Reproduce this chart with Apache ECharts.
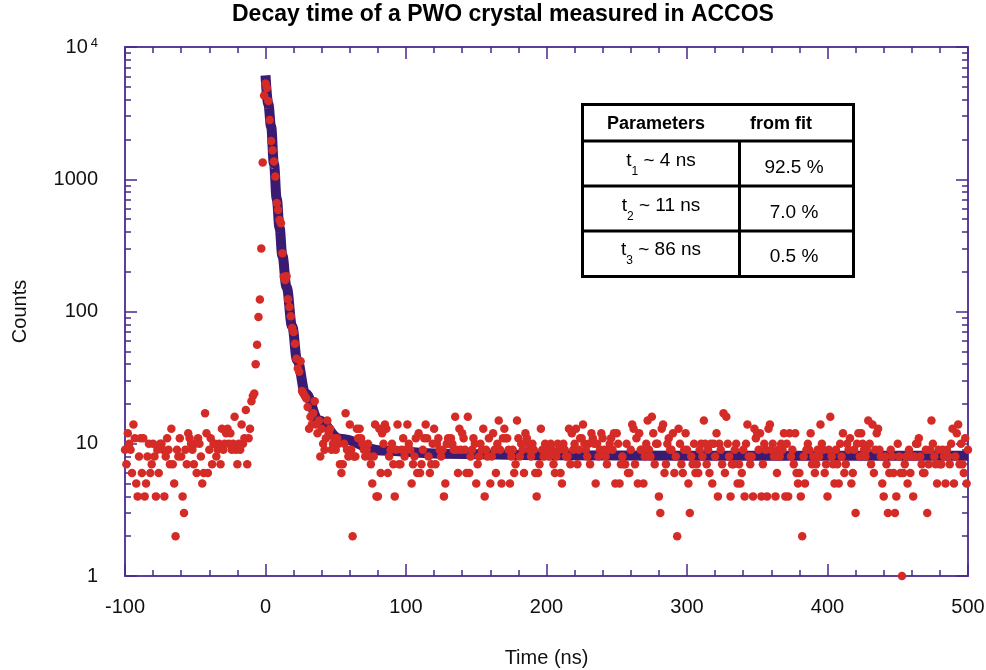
<!DOCTYPE html>
<html><head><meta charset="utf-8">
<script src="https://cdn.jsdelivr.net/npm/echarts@6/dist/echarts.min.js"></script>
<style>html,body{margin:0;padding:0;background:#fff}#chart{width:986px;height:670px}</style>
</head><body><div id="chart"></div>
<script>
// Time grid of the measured histogram (ns)
const timeStart = -100;
const timeStep = 1;

// Measured counts
const countsPre = [
  9,7,12,10,9,6,14,11,5,4,
  8,11,6,11,4,5,8,10,6,7,
  10,8,4,9,6,10,10,9,4,8,
  11,9,7,13,7,5,2,9,8,11,
  8,4,3,9,7,12,11,10,9,7,
  10,6,11,10,8,5,6,17,12,6,
  9,11,7,10,10,8,9,10,7,13,
  9,10,12,13,10,12,9,10,16,9,
  7,10,9,14,10,11,18,7,11,13,
  21,23,24,40,56,91,123,300,1340,4300
];
const countsDecay = [
  5300,4900,3900,2800,1950,1660,1360,1050,660,585,
  492,464,276,183,173,185,124,108,92,75,
  70,57,44,37,35,42,25,24,23,22,
  19,13,16,14,17,21,14,12,15,8,
  13,10,9,11,15,12,13,9,10,11
];
const countsTailA = [
  9,11,10,7,6,7,10,17,9,8,
  14,9,2,8,8,13,11,13,11,10,
  9,8,9,10,8,7,5,8,14,4,
  4,13,6,12,10,14,13,6,8,9,
  10,7,4,9,14,7,7,9,11,8,
  9,14,10,9,5,7,8,11,6,12,
  6,7,9,11,14,11,8,6,7,10,
  13,7,10,11,9,8,9,4,5,10,
  11,10,11,10,9,16,9,6,13,9,
  12,11,9,6,16,6,8,9,11,10,
  5,7,8,10,9,13,4,9,8,11,
  5,8,12,9,6,10,15,9,5,11,
  13,11,11,9,5,8,9,6,7,15,
  11,8,10,9,6,12,11,10,9,8,
  10,9,6,4,6,7,13,9,8,10
];
const countsTailB = [
  9,9,8,10,9,7,6,8,10,9,
  6,5,10,9,8,8,13,7,12,9,
  10,13,7,9,11,11,14,10,9,8,
  10,7,12,11,10,5,10,8,9,12,
  11,9,8,7,9,10,11,9,12,5,
  12,10,5,7,8,7,7,10,6,6,
  9,14,13,7,11,5,12,9,9,5,
  8,10,15,9,8,16,12,7,10,10,
  4,3,13,14,6,7,10,11,9,9,
  12,6,8,2,13,10,7,6,9,12,
  9,5,3,8,7,10,6,7,6,9,
  10,8,15,10,7,9,6,10,5,10,
  8,12,4,10,9,7,17,6,16,10,
  8,4,7,7,9,10,5,7,5,6,
  9,4,10,14,8,7,8,4,13,11
];
const countsTailC = [
  12,9,12,4,7,10,9,4,13,14,
  9,10,8,4,6,9,8,10,9,12,
  4,10,4,12,8,9,7,12,6,5,
  6,4,2,8,5,9,10,9,12,7,
  8,6,7,9,8,14,10,9,6,7,
  4,9,16,8,7,5,9,7,5,10,
  8,12,6,7,10,9,11,5,6,9,
  3,10,12,8,12,10,9,8,9,15,
  10,7,14,6,9,12,13,9,8,5,
  4,8,7,3,6,9,8,6,3,4,
  10,8,6,1,6,7,8,5,9,6,
  8,4,8,10,10,11,8,7,6,6,
  9,3,7,9,15,10,8,7,5,9,
  7,7,9,8,5,9,8,7,10,13,
  5,8,12,14,7,10,7,6,11,5,
  9
];

// Fitted curve
const fitTimes  = [0, 2, 4, 6, 8, 10, 12, 15, 19, 22.5, 28.5, 38, 53, 82, 125, 200, 300, 500];
const fitValues = [6100, 3700, 2500, 1310, 710, 430, 265, 153, 77, 43, 24, 15, 10.9, 8.9, 8.4, 8.2, 8.1, 8.1];

// Axis tick values
const yDecades = [1, 10, 100, 1000];
const yMinorMultipliers = [2, 3, 4, 5, 6, 7, 8, 9];

// Table text
const tableHeader = ['Parameters', 'from fit'];
const tauIndex = ['1', '2', '3'];
const tauText = [' ~ 4 ns', ' ~ 11 ns', ' ~ 86 ns'];
const fractions = ['92.5 %', '7.0 %', '0.5 %'];

const allCounts = countsPre.concat(countsDecay, countsTailA, countsTailB, countsTailC);
const scatterData = allCounts.map((c, i) => [timeStart + i * timeStep, c]);
const fitData = fitTimes.map((t, i) => [t, fitValues[i]]);
const minorLogs = [];
yDecades.forEach(d => yMinorMultipliers.forEach(m => minorLogs.push(Math.log10(m * d))));

const FONT = '"Liberation Sans", Arial, Helvetica, sans-serif';
const axisColor = '#5b3f9a';
const tickColor = '#4a2a8a';

const chart = echarts.init(document.getElementById('chart'), null, {renderer: 'canvas'});

function xAxisCfg(pos, showLabels) {
  return {
    type: 'value', gridIndex: 0, position: pos, min: -100, max: 500, interval: 100,
    axisLine: {show: true, onZero: false, lineStyle: {color: axisColor, width: 2}},
    axisTick: {show: true, inside: true, length: 12, lineStyle: {color: tickColor, width: 1.5}},
    minorTick: {show: true, splitNumber: 5, length: 6, lineStyle: {color: tickColor, width: 1.5}},
    axisLabel: {show: showLabels, fontSize: 20, color: '#111', margin: 21, fontFamily: FONT},
    splitLine: {show: false}, minorSplitLine: {show: false},
    name: showLabels ? 'Time (ns)' : '', nameLocation: 'middle', nameGap: 72,
    nameTextStyle: {fontSize: 20, color: '#111', fontFamily: FONT}
  };
}
function yLogCfg(pos, showLabels) {
  return {
    type: 'log', logBase: 10, gridIndex: 0, position: pos, min: 1, max: 10000,
    axisLine: {show: true, onZero: false, lineStyle: {color: axisColor, width: 2}},
    axisTick: {show: true, inside: true, length: 12, lineStyle: {color: tickColor, width: 1.5}},
    axisLabel: {
      show: showLabels, margin: 27, color: '#111', fontFamily: FONT,
      formatter: v => { const r = Math.round(v); return r === 10000 ? '{n|10}{s|4}' : '{n|' + r + '}'; },
      rich: {
        n: {fontSize: 20, fontFamily: FONT, color: '#111', lineHeight: 20, verticalAlign: 'top'},
        s: {fontSize: 13, fontFamily: FONT, color: '#111', lineHeight: 10, verticalAlign: 'top', padding: [0, 0, 0, 3]}
      }
    },
    splitLine: {show: false},
    name: showLabels ? 'Counts' : '', nameLocation: 'middle', nameGap: 95,
    nameTextStyle: {fontSize: 20, color: '#111', fontFamily: FONT}
  };
}
function yMinorCfg(pos) {
  return {
    type: 'value', gridIndex: 0, position: pos, min: 0, max: 4,
    axisLine: {show: false, onZero: false},
    axisTick: {show: true, inside: true, length: 6, customValues: minorLogs, lineStyle: {color: tickColor, width: 1.5}},
    axisLabel: {show: false},
    splitLine: {show: false}
  };
}

function textWidth(str, font) {
  return new echarts.graphic.Text({style: {text: str, font: font}}).getBoundingRect().width;
}

const tableLeft = 582.5, tableRight = 853.5, tableTop = 104.5, tableBottom = 276.5;
const rowLines = [141, 186, 231];
const colLine = 739.5;
const rowTextY = [161, 206, 250];
const rowValueY = [168, 213, 257];
const mainFont = '19px "Liberation Sans", Arial, sans-serif';
const subFont = '12px "Liberation Sans", Arial, sans-serif';

const graphic = [
  {type: 'rect', z: 100, shape: {x: tableLeft, y: tableTop, width: tableRight - tableLeft, height: tableBottom - tableTop},
   style: {fill: '#fff', stroke: '#000', lineWidth: 3}},
  {type: 'line', z: 101, shape: {x1: colLine, y1: rowLines[0], x2: colLine, y2: tableBottom}, style: {stroke: '#000', lineWidth: 3}}
];
rowLines.forEach(y => graphic.push({type: 'line', z: 101, shape: {x1: tableLeft, y1: y, x2: tableRight, y2: y}, style: {stroke: '#000', lineWidth: 3}}));
graphic.push({type: 'text', z: 102, x: 656, y: 124, style: {text: tableHeader[0], font: 'bold 18px "Liberation Sans", Arial, sans-serif', fill: '#000', align: 'center', verticalAlign: 'middle'}});
graphic.push({type: 'text', z: 102, x: 781, y: 124, style: {text: tableHeader[1], font: 'bold 18px "Liberation Sans", Arial, sans-serif', fill: '#000', align: 'center', verticalAlign: 'middle'}});
tauIndex.forEach((idx, i) => {
  const wT = textWidth('t', mainFont);
  const wS = textWidth(idx, subFont);
  const wR = textWidth(tauText[i], mainFont);
  const x0 = 661 - (wT + wS + wR) / 2;
  graphic.push({type: 'text', z: 102, x: x0, y: rowTextY[i], style: {text: 't', font: mainFont, fill: '#000', align: 'left', verticalAlign: 'middle'}});
  graphic.push({type: 'text', z: 102, x: x0 + wT, y: rowTextY[i] + 11, style: {text: idx, font: subFont, fill: '#000', align: 'left', verticalAlign: 'middle'}});
  graphic.push({type: 'text', z: 102, x: x0 + wT + wS, y: rowTextY[i], style: {text: tauText[i], font: mainFont, fill: '#000', align: 'left', verticalAlign: 'middle'}});
  graphic.push({type: 'text', z: 102, x: 794, y: rowValueY[i], style: {text: fractions[i], font: mainFont, fill: '#000', align: 'center', verticalAlign: 'middle'}});
});

chart.setOption({
  animation: false,
  backgroundColor: '#fff',
  title: {text: 'Decay time of a PWO crystal measured in ACCOS', left: 232, top: 3, padding: 0,
          textStyle: {fontSize: 23, fontWeight: 'bold', fontFamily: FONT, color: '#000'}},
  grid: {left: 125, right: 18, top: 47, bottom: 94, containLabel: false, outerBoundsMode: 'none'},
  xAxis: [xAxisCfg('bottom', true), xAxisCfg('top', false)],
  yAxis: [yLogCfg('left', true), yLogCfg('right', false), yMinorCfg('left'), yMinorCfg('right')],
  series: [
    {type: 'line', name: 'fit', xAxisIndex: 0, yAxisIndex: 0, data: fitData, symbol: 'none', showSymbol: false,
     smooth: 0.4, smoothMonotone: 'x', silent: true, z: 2,
     lineStyle: {color: '#3b1a72', width: 10, cap: 'butt', join: 'round'}},
    {type: 'scatter', name: 'data', xAxisIndex: 0, yAxisIndex: 0, data: scatterData, symbol: 'circle', symbolSize: 8.5,
     clip: false, z: 3, itemStyle: {color: '#d52b27', opacity: 1}}
  ],
  graphic: graphic
});
</script></body></html>
